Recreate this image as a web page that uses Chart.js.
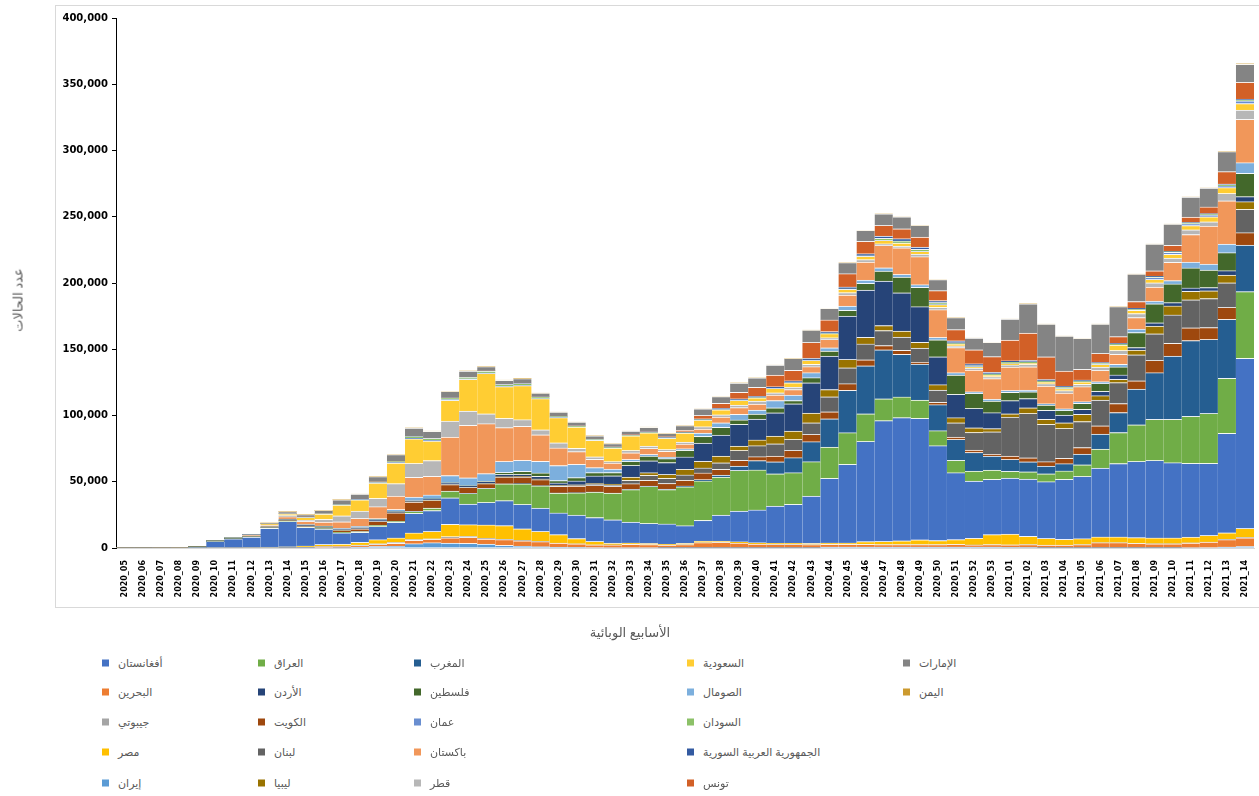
<!DOCTYPE html>
<html lang="ar">
<head>
<meta charset="utf-8">
<script src="https://cdn.jsdelivr.net/npm/chart.js@4.4.1/dist/chart.umd.min.js"></script>
<style>
html,body{margin:0;padding:0;background:#fff;}
#wrap{position:relative;width:1259px;height:796px;overflow:hidden;font-family:"Liberation Sans","DejaVu Sans",sans-serif;}
#frame{position:absolute;left:55px;top:5px;width:1230px;height:601px;border:1px solid #d9d9d9;}
#c{position:absolute;left:0;top:0;}
.axt{position:absolute;color:#595959;font-size:13px;white-space:nowrap;}
#yt{left:18px;top:300px;transform:translate(-50%,-50%) rotate(-90deg);}
#xt{left:630px;top:632px;transform:translate(-50%,-50%);}
.lg{position:absolute;display:flex;align-items:center;font-size:11px;color:#595959;white-space:nowrap;transform:translateY(-50%);}
.lg i{display:inline-block;width:7px;height:7px;margin-right:9px;}
</style>
</head>
<body>
<div id="wrap">
<div id="frame"></div>
<canvas id="c" width="1259" height="650"></canvas>
<div class="axt" id="yt" dir="rtl">عدد الحالات</div>
<div class="axt" id="xt" dir="rtl">الأسابيع الوبائية</div>
<div id="legend"></div>
</div>
<script>
const WEEKS = ['2020_05','2020_06','2020_07','2020_08','2020_09','2020_10','2020_11','2020_12','2020_13','2020_14',
'2020_15','2020_16','2020_17','2020_18','2020_19','2020_20','2020_21','2020_22','2020_23','2020_24',
'2020_25','2020_26','2020_27','2020_28','2020_29','2020_30','2020_31','2020_32','2020_33','2020_34',
'2020_35','2020_36','2020_37','2020_38','2020_39','2020_40','2020_41','2020_42','2020_43','2020_44',
'2020_45','2020_46','2020_47','2020_48','2020_49','2020_50','2020_51','2020_52','2020_53','2021_01',
'2021_02','2021_03','2021_04','2021_05','2021_06','2021_07','2021_08','2021_09','2021_10','2021_11',
'2021_12','2021_13','2021_14'];

const Y_TICKS = [0,50000,100000,150000,200000,250000,300000,350000,400000];

// stacked from bottom to top
const iran = [0,0,0,0,1,5,10,30,100,200,
 200,400,500,800,1200,1500,3300,4000,3800,3500,
 3000,2000,1500,1000,700,600,400,300,300,300,
 200,200,200,200,200,200,200,200,200,800,
 800,800,800,800,800,800,800,800,800,600,
 500,200,200,200,200,200,200,200,200,300,
 400,800,1200];
const bahrain = [0,0,0,0,47,60,150,100,200,200,
 300,500,600,1000,1500,2000,2500,2500,3800,4500,
 3800,4300,4000,3800,3000,2500,2000,2000,2500,2300,
 2000,2300,3800,4000,3500,2800,2500,2500,2300,2000,
 2000,2000,1800,1800,1800,1800,2000,1500,1800,1800,
 2000,2000,2000,2300,3800,3800,3300,3000,3000,3500,
 4000,5500,6500];
const djibouti = [0,0,0,0,0,0,0,2,20,50,
 100,300,400,500,600,800,600,500,1000,800,
 600,300,200,200,100,100,50,50,50,50,
 50,50,50,50,50,50,50,50,50,50,
 50,50,50,50,50,50,50,50,50,50,
 50,50,50,50,50,50,50,100,100,100,
 100,200,300];
const egypt = [0,0,1,1,1,50,100,200,400,400,
 1000,1500,1500,2000,3000,3300,5000,5500,9300,8800,
 10000,10300,8800,7500,6300,4000,2500,1300,1000,800,
 800,1000,1200,1000,1000,1000,1000,1000,1000,1000,
 1000,2000,2300,2800,3500,3000,3500,5000,7500,8000,
 6300,5000,4300,4500,4300,4300,4300,4300,4300,4300,
 5000,5000,6800];
const afghanistan = [0,0,0,43,550,5000,6600,8000,14200,19200,
 14000,11500,8500,7500,10000,11800,14800,15800,20000,15600,
 17000,18900,18400,17600,16400,17600,18100,17600,15800,15100,
 15100,13300,15600,19600,23100,24700,27900,29200,35700,48700,
 59300,75600,91200,93000,91700,71600,50500,43200,41700,42400,
 43200,42800,45300,47000,52000,55400,57500,58500,56800,55700,
 54400,75100,128400];
const iraq = [0,0,0,0,19,50,50,100,300,500,
 400,400,400,600,800,800,1500,1800,5000,8000,
 10600,12600,15600,16900,15000,16900,19200,20200,24500,28000,
 26000,29400,29800,28700,30700,30200,24400,23900,25900,23600,
 23900,20900,16400,15600,13800,11300,9300,7500,7000,5000,
 5500,6000,6300,8800,14300,23400,27700,31000,32700,35500,
 37700,41500,50300];
const morocco = [0,0,0,0,0,0,0,100,150,100,
 50,30,20,20,20,20,50,50,50,50,
 50,50,50,50,50,50,50,50,100,200,
 300,600,1000,1500,3300,7000,9000,11300,15100,21400,
 32000,36200,37000,32200,27200,19600,15800,14100,10600,9000,
 7500,5800,5500,8000,11300,15100,26900,35200,47800,57200,
 55800,44500,35200];
const kuwait = [0,0,0,0,45,20,50,50,100,200,
 400,600,1200,2000,3000,6300,7000,5800,5000,4500,
 3500,5000,5000,4500,5000,5000,5000,5000,4300,4300,
 4300,4300,5000,4300,4300,3000,4300,5500,5500,5300,
 5000,4500,3300,3000,1300,1800,1800,1800,1300,2500,
 3000,3300,4000,5000,6300,6800,6300,9300,9600,9600,
 9000,9000,9300];
const lebanon = [0,0,0,1,9,20,100,150,100,150,
 100,100,50,50,50,50,50,50,100,100,
 100,100,200,300,300,500,800,1000,2500,3800,
 3800,4000,3800,5000,7500,8300,9300,8300,8800,11300,
 12000,12000,11300,10000,10800,9300,10800,13300,16900,29400,
 33500,28200,22600,19600,19400,15800,19600,20100,21400,21100,
 21900,18600,17600];
const libya = [0,0,0,0,0,0,0,1,10,10,
 10,10,10,10,20,20,20,50,100,100,
 100,200,300,300,300,400,500,700,2500,2000,
 3000,4300,5000,5000,3300,4300,5800,6300,7300,5500,
 6300,5000,3800,4500,4300,4000,3800,3500,2500,2500,
 4300,3800,4300,5500,3300,2500,3500,5800,6800,6500,
 5800,5800,5800];
const jordan = [0,0,0,0,0,2,20,100,300,500,
 600,700,1000,1000,1000,1000,1000,1000,1000,1000,
 1500,1800,1500,2000,2000,3000,5800,6300,8800,9000,
 9000,9300,13800,15800,16400,15800,17600,20600,22900,25200,
 32700,35700,33500,28900,26900,21100,17600,14600,12000,10000,
 7000,6800,5800,3800,3300,3300,2000,2500,2500,2500,
 2500,3300,3800];
const palestine = [0,0,0,0,0,20,30,20,50,100,
 100,100,50,20,20,20,20,20,50,100,
 100,1500,2300,2500,1800,2500,2500,2500,3000,3500,
 3000,5000,5000,6000,3300,3800,3800,2500,3800,3800,
 4300,5000,7500,11800,14600,12800,14600,11300,8800,6300,
 5000,4000,3500,4500,6000,6000,11300,14300,14100,15100,
 13100,13600,17600];
const somalia = [0,0,0,0,6,10,20,50,100,300,
 400,500,600,800,1000,1500,2500,3000,5500,6000,
 5800,8300,8300,8800,11300,10000,3800,2500,1500,1300,
 1000,1200,2500,3300,4300,3000,5500,4000,3800,2500,
 3300,2500,2500,2000,2000,1800,1800,1300,1300,1300,
 1300,1000,1200,1200,1300,2000,2500,2000,2500,4300,
 4500,6500,8000];
const pakistan = [0,0,0,0,4,10,30,600,1200,1800,
 2400,3000,5000,6000,9000,10000,15000,14000,29000,39500,
 37700,25500,25700,20000,13300,9600,6300,4500,5000,4500,
 4500,3500,3000,4300,5000,4500,4000,4300,4500,6300,
 8300,13600,16900,20100,21100,20900,18900,16400,15600,17600,
 17600,13300,11800,11300,8500,7500,8800,10600,13800,20900,
 28700,32700,32700];
const qatar = [0,0,0,0,0,20,350,100,300,800,
 1000,2000,4500,5500,6300,9500,10500,12000,12000,10800,
 7500,7000,5000,3800,3800,2500,1800,1200,1800,1800,
 1300,1500,1800,1800,2000,2200,1800,1800,1800,1300,
 1800,1800,1300,1300,2000,1800,1300,1300,1500,1800,
 1800,1800,2000,1800,2500,3000,3000,3300,3300,3500,
 3300,5500,7000];
const saudi = [0,0,0,0,0,20,100,400,800,1200,
 2000,4000,8000,8500,11500,15500,18500,14600,15800,24000,
 30500,24000,25800,23500,19000,16000,12500,10300,11000,10000,
 8500,6800,5000,3800,3500,2500,3300,3300,3000,3000,
 2500,2500,2500,2300,2000,2000,1500,1200,1200,1000,
 1000,1200,1500,1800,2000,4000,2500,2500,2800,3300,
 3800,4500,5000];
const oman = [0,0,0,0,0,0,0,0,3,5,
 50,100,200,300,400,500,700,700,600,300,
 300,300,200,200,200,100,100,100,100,100,
 100,100,100,100,100,100,100,100,100,100,
 100,100,100,100,100,100,100,100,100,100,
 100,100,100,100,100,100,300,1500,1500,1500,
 1500,1200,2000];
const sudan = [0,0,0,0,0,0,0,1,5,10,
 20,100,200,300,600,800,1200,1400,1200,1300,
 1400,1300,1300,1000,800,600,500,300,300,300,
 200,200,200,200,100,100,100,100,100,100,
 200,300,1500,1500,1500,1500,800,800,800,1000,
 1000,1000,1000,800,800,800,800,500,500,500,
 500,1000,800];
const syria = [0,0,0,0,0,0,0,0,5,10,
 10,20,10,10,10,10,50,50,50,100,
 100,100,100,100,100,200,300,400,500,500,
 500,600,700,800,900,1000,1100,1200,1300,1400,
 1500,1600,1700,1700,1700,1500,1400,1300,1200,1000,
 1000,800,700,600,600,500,500,500,400,400,
 400,500,600];
const tunisia = [0,0,0,0,0,5,20,70,200,300,
 300,200,100,50,20,10,10,10,10,10,
 10,20,50,50,50,50,50,100,200,300,
 400,1200,2500,3800,5000,6800,8800,8000,12000,8800,
 10000,9300,8000,7500,7500,7500,8500,10600,11800,15600,
 20600,17100,11300,8000,6800,5000,5000,4000,4300,4000,
 5000,9300,12600];
const uae = [4,3,2,4,9,30,50,100,300,1300,
 1800,2300,3500,3800,3800,5000,6300,5300,4800,4500,
 3300,3000,3500,2800,3000,2800,2500,2500,2500,3000,
 2500,3500,5000,5000,7000,7000,7500,9000,9300,8800,
 8300,8300,8800,9000,8800,8300,9000,8800,10800,15800,
 22100,24700,26400,23400,22100,22600,20700,20100,16000,15100,
 14300,15100,13600];
const yemen = [0,0,0,0,0,0,0,0,0,0,
 0,0,0,10,30,50,100,150,200,200,
 200,200,200,100,100,100,50,50,50,50,
 50,50,50,50,50,50,50,50,50,50,
 50,50,50,50,50,50,50,50,50,50,
 50,50,50,50,50,50,50,50,50,50,
 50,300,500];

const SERIES = [
  {label:'إيران', data:iran, color:'#5B9BD5'},
  {label:'البحرين', data:bahrain, color:'#ED7D31'},
  {label:'جيبوتي', data:djibouti, color:'#A5A5A5'},
  {label:'مصر', data:egypt, color:'#FFC000'},
  {label:'أفغانستان', data:afghanistan, color:'#4472C4'},
  {label:'العراق', data:iraq, color:'#70AD47'},
  {label:'المغرب', data:morocco, color:'#255E91'},
  {label:'الكويت', data:kuwait, color:'#9E480E'},
  {label:'لبنان', data:lebanon, color:'#636363'},
  {label:'ليبيا', data:libya, color:'#997300'},
  {label:'الأردن', data:jordan, color:'#264478'},
  {label:'فلسطين', data:palestine, color:'#43682B'},
  {label:'الصومال', data:somalia, color:'#7CAFDD'},
  {label:'باكستان', data:pakistan, color:'#F1975A'},
  {label:'قطر', data:qatar, color:'#B7B7B7'},
  {label:'السعودية', data:saudi, color:'#FFCD33'},
  {label:'عمان', data:oman, color:'#698ED0'},
  {label:'السودان', data:sudan, color:'#8CC168'},
  {label:'الجمهورية العربية السورية', data:syria, color:'#335AA1'},
  {label:'تونس', data:tunisia, color:'#D26027'},
  {label:'الإمارات', data:uae, color:'#848484'},
  {label:'اليمن', data:yemen, color:'#CC9A2E'}
];

// legend reading order (column by column, 5 rows per column)
const LEGEND_ORDER = ['أفغانستان','البحرين','جيبوتي','مصر','إيران',
  'العراق','الأردن','الكويت','لبنان','ليبيا',
  'المغرب','فلسطين','عمان','باكستان','قطر',
  'السعودية','الصومال','السودان','الجمهورية العربية السورية','تونس',
  'الإمارات','اليمن'];
const LEGEND_COL_X = [102, 258, 414, 687, 903];
const LEGEND_ROW_Y = [663, 692, 722, 752, 783];

const lg = document.getElementById('legend');
LEGEND_ORDER.forEach((name, k) => {
  const s = SERIES.find(d => d.label === name);
  const el = document.createElement('div');
  el.className = 'lg';
  el.style.left = LEGEND_COL_X[Math.floor(k / 5)] + 'px';
  el.style.top = LEGEND_ROW_Y[k % 5] + 'px';
  const sq = document.createElement('i');
  sq.style.background = s.color;
  const tx = document.createElement('span');
  tx.dir = 'rtl';
  tx.textContent = name;
  el.appendChild(sq); el.appendChild(tx);
  lg.appendChild(el);
});

new Chart(document.getElementById('c'), {
  type: 'bar',
  data: {
    labels: WEEKS,
    datasets: SERIES.map(s => ({
      label: s.label,
      data: s.data,
      backgroundColor: s.color,
      borderColor: 'rgba(255,255,255,0.45)',
      borderWidth: {top: 1, left: 0, right: 0, bottom: 0},
      borderSkipped: false,
      barPercentage: 1,
      categoryPercentage: 1
    }))
  },
  options: {
    responsive: false,
    animation: false,
    layout: {padding: {top: 18, right: 5, left: 0, bottom: 0}},
    plugins: {legend: {display: false}, tooltip: {enabled: false}},
    scales: {
      x: {
        stacked: true,
        grid: {display: false},
        border: {display: true, color: '#d9d9d9'},
        ticks: {autoSkip: false, minRotation: 90, maxRotation: 90, padding: 4, color: '#000',
          font: {family: 'DejaVu Sans', size: 8, weight: 'bold'}},
        afterFit: s => { s.height = 102; }
      },
      y: {
        stacked: true,
        min: 0, max: 400000,
        afterBuildTicks: s => { s.ticks = Y_TICKS.map(v => ({value: v})); },
        ticks: {padding: 4, color: '#000', font: {family: 'DejaVu Sans', size: 10, weight: 'bold'},
          callback: v => Number(v).toLocaleString('en-US')},
        grid: {display: true, drawOnChartArea: false, drawTicks: true, tickLength: 4, color: '#000'},
        border: {display: true, color: '#000', width: 1},
        afterFit: s => { s.width = 116; }
      }
    }
  }
});
</script>
</body>
</html>
